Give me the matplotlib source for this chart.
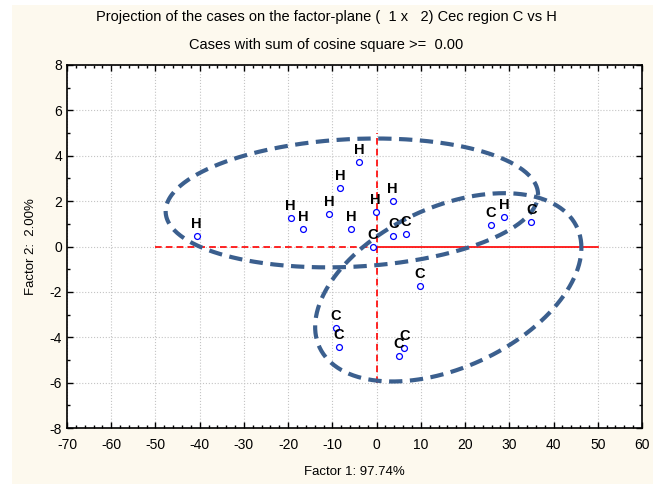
import numpy as np
import matplotlib.pyplot as plt
from matplotlib.patches import Rectangle
from matplotlib.ticker import MultipleLocator

plt.rcParams['font.family'] = ['Liberation Sans', 'DejaVu Sans']
plt.rcParams['axes.unicode_minus'] = False

# case coordinates on factor plane
labels = ['H', 'H', 'H', 'H', 'H', 'H', 'H', 'H', 'H', 'H',
          'C', 'C', 'C', 'C', 'C', 'C', 'C', 'C', 'C', 'C']
f1 = [-40.7, -19.4, -16.6, -10.8, -8.3, -3.9, -5.8, -0.2, 3.6, 28.8,
      3.8, 6.6, -0.9, 9.7, -9.2, -8.5, 6.3, 5.0, 25.8, 35.0]
f2 = [0.48, 1.26, 0.79, 1.45, 2.59, 3.74, 0.79, 1.51, 1.99, 1.31,
      0.48, 0.54, 0.00, -1.74, -3.60, -4.41, -4.46, -4.83, 0.96, 1.08]

# group ellipses: centre, half extents, tilt (corr)
ell_cx = [-5.6, 16.2]
ell_cy = [1.92, -1.80]
ell_hx = [42.1, 30.1]
ell_hy = [2.84, 4.15]
ell_rho = [0.13, 0.42]

fig = plt.figure(figsize=(6.53, 4.84), dpi=100, facecolor='white')
fig.patches.append(Rectangle((12 / 653, 0), 1, 1 - 5 / 484, transform=fig.transFigure,
                             facecolor='#fdf9ee', edgecolor='none', zorder=-10))
ax = fig.add_axes([67 / 653, 56 / 484, 575 / 653, 363 / 484])
ax.set_facecolor('white')

ax.set_xlim(-70, 60)
ax.set_ylim(-8, 8)
ax.xaxis.set_major_locator(MultipleLocator(10))
ax.xaxis.set_minor_locator(MultipleLocator(2))
ax.yaxis.set_major_locator(MultipleLocator(2))
ax.yaxis.set_minor_locator(MultipleLocator(1))
ax.tick_params(which='both', direction='in', top=True, right=True, labelsize=10)
ax.tick_params(which='major', length=4, width=1)
ax.tick_params(which='minor', length=2, width=1)
ax.tick_params(axis='x', which='major', pad=7)
ax.grid(True, which='major', color='#c4c4c4', linestyle=':', linewidth=0.8)
for sp in ax.spines.values():
    sp.set_linewidth(1.2)

# reference axes through origin
ax.plot([-50, 0], [0, 0], color='red', lw=1.2, ls=(0, (4, 2.5)), zorder=2)
ax.plot([0, 50], [0, 0], color='red', lw=1.2, zorder=2)
ax.plot([0, 0], [-6, 5], color='red', lw=1.2, ls=(0, (4, 2.5)), zorder=2)

t = np.linspace(0, 2 * np.pi, 400)
for cx, cy, hx, hy, r in zip(ell_cx, ell_cy, ell_hx, ell_hy, ell_rho):
    ex = cx + hx * np.cos(t)
    ey = cy + hy * (r * np.cos(t) + np.sqrt(1 - r ** 2) * np.sin(t))
    ax.plot(ex, ey, color='#3b5f8e', lw=3, ls=(0, (3.2, 1.8)), zorder=3)

ax.scatter(f1, f2, s=18, facecolors='white', edgecolors='#0000ff', linewidths=0.9, zorder=4)
for x, y, lab in zip(f1, f2, labels):
    ax.annotate(lab, (x, y), xytext=(0, 3.5), textcoords='offset points',
                ha='center', va='bottom', fontsize=10.5, fontweight='bold', zorder=5)

ax.set_xlabel('Factor 1: 97.74%', fontsize=9.5, labelpad=10)
ax.set_ylabel('Factor 2:  2.00%', fontsize=9.5, labelpad=9)
fig.text(0.5, 1 - 17 / 484, 'Projection of the cases on the factor-plane (  1 x   2) Cec region C vs H',
         ha='center', va='center', fontsize=10.5)
fig.text(0.5, 1 - 45 / 484, 'Cases with sum of cosine square >=  0.00',
         ha='center', va='center', fontsize=10.5)

fig.savefig('out.png', dpi=100, facecolor=fig.get_facecolor())
